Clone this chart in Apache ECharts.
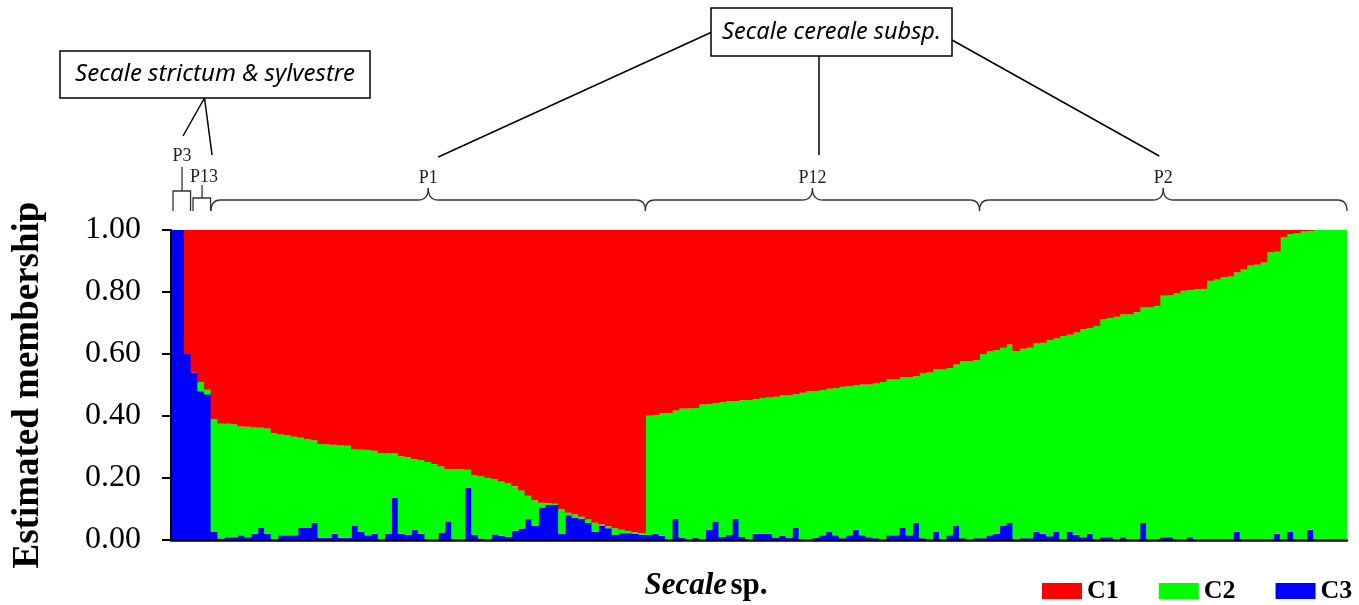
<!DOCTYPE html>
<html>
<head>
<meta charset="utf-8">
<script src="https://cdn.jsdelivr.net/npm/echarts@6/dist/echarts.min.js"></script>
<style>
  html, body { margin: 0; padding: 0; background: #fff; }
  #main { width: 1359px; height: 605px; }
</style>
</head>
<body>
<div id="main"></div>
<script>
// membership per individual (C1 red, C2 green, C3 blue)
const c1 = [
  0, 0, 0.40, 0.46, 0.49, 0.515,
  0.61, 0.625, 0.625, 0.627, 0.634, 0.635, 0.637, 0.638, 0.64, 0.655,
  0.66, 0.663, 0.667, 0.67, 0.675, 0.678, 0.69, 0.692, 0.693, 0.695,
  0.696, 0.708, 0.709, 0.71, 0.712, 0.719, 0.72, 0.721, 0.73, 0.732,
  0.739, 0.742, 0.748, 0.755, 0.763, 0.771, 0.771, 0.772, 0.773, 0.79,
  0.794, 0.8, 0.804, 0.811, 0.818, 0.827, 0.84, 0.857, 0.872, 0.88,
  0.881, 0.883, 0.9, 0.912, 0.918, 0.925, 0.934, 0.944, 0.95, 0.956,
  0.962, 0.967, 0.972, 0.975, 0.978,
  0.599, 0.597, 0.59, 0.59, 0.582, 0.576, 0.576, 0.574, 0.563, 0.562,
  0.558, 0.556, 0.552, 0.552, 0.549, 0.548, 0.546, 0.542, 0.54, 0.538,
  0.534, 0.532, 0.53, 0.525, 0.52, 0.519, 0.516, 0.512, 0.51, 0.506,
  0.504, 0.502, 0.498, 0.498, 0.495, 0.49, 0.482, 0.482, 0.474, 0.474,
  0.472, 0.463, 0.46, 0.45, 0.45, 0.445, 0.434, 0.423, 0.423, 0.42,
  0.401, 0.391, 0.388, 0.38, 0.369, 0.39, 0.383, 0.38, 0.366, 0.364,
  0.355, 0.35, 0.342, 0.338, 0.331, 0.32, 0.316, 0.31, 0.288, 0.284,
  0.28, 0.272, 0.272, 0.265, 0.25, 0.25, 0.245, 0.212, 0.21, 0.205,
  0.196, 0.194, 0.191, 0.19, 0.164, 0.16, 0.153, 0.15, 0.137, 0.127,
  0.115, 0.112, 0.105, 0.072, 0.07, 0.024, 0.013, 0.01, 0.005, 0.003,
  0, 0, 0, 0, 0
];
const c2 = [
  0, 0, 0, 0, 0.03, 0.015,
  0.364, 0.37, 0.366, 0.364, 0.351, 0.356, 0.343, 0.322, 0.34, 0.345,
  0.325, 0.322, 0.318, 0.29, 0.285, 0.267, 0.303, 0.301, 0.287, 0.298,
  0.297, 0.245, 0.265, 0.275, 0.268, 0.281, 0.26, 0.143, 0.25, 0.251,
  0.229, 0.238, 0.252, 0.245, 0.213, 0.169, 0.229, 0.228, 0.059, 0.194,
  0.201, 0.2, 0.178, 0.175, 0.172, 0.143, 0.123, 0.076, 0.082, 0.015,
  0.006, 0.004, 0.08, 0.008, 0.01, 0.007, 0.011, 0.03, 0.004, 0.006,
  0.021, 0.011, 0.006, 0.005, 0.005,
  0.385, 0.383, 0.396, 0.41, 0.35, 0.416, 0.424, 0.418, 0.437, 0.406,
  0.382, 0.434, 0.432, 0.38, 0.441, 0.452, 0.434, 0.438, 0.44, 0.454,
  0.452, 0.46, 0.43, 0.475, 0.48, 0.473, 0.469, 0.462, 0.475, 0.488,
  0.481, 0.465, 0.487, 0.493, 0.499, 0.51, 0.503, 0.503, 0.487, 0.511,
  0.473, 0.531, 0.54, 0.524, 0.55, 0.54, 0.519, 0.571, 0.577, 0.574,
  0.593, 0.594, 0.592, 0.573, 0.576, 0.61, 0.611, 0.614, 0.608, 0.616,
  0.633, 0.624, 0.658, 0.636, 0.652, 0.671, 0.664, 0.69, 0.703, 0.707,
  0.72, 0.719, 0.728, 0.735, 0.695, 0.75, 0.755, 0.779, 0.781, 0.795,
  0.804, 0.797, 0.809, 0.81, 0.836, 0.84, 0.847, 0.85, 0.837, 0.873,
  0.885, 0.888, 0.895, 0.928, 0.91, 0.976, 0.961, 0.99, 0.995, 0.964,
  1, 1, 1, 1, 1
];
const c3 = [
  1, 1, 0.6, 0.54, 0.48, 0.47,
  0.026, 0.005, 0.009, 0.009, 0.015, 0.009, 0.02, 0.04, 0.02, 0,
  0.015, 0.015, 0.015, 0.04, 0.04, 0.055, 0.007, 0.007, 0.02, 0.007,
  0.007, 0.047, 0.026, 0.015, 0.02, 0, 0.02, 0.136, 0.02, 0.017,
  0.032, 0.02, 0, 0, 0.024, 0.06, 0, 0, 0.168, 0.016,
  0.005, 0, 0.018, 0.014, 0.01, 0.03, 0.037, 0.067, 0.046, 0.105,
  0.113, 0.113, 0.02, 0.08, 0.072, 0.068, 0.055, 0.026, 0.046, 0.038,
  0.017, 0.022, 0.022, 0.02, 0.017,
  0.016, 0.02, 0.014, 0, 0.068, 0.008, 0, 0.008, 0, 0.032,
  0.06, 0.01, 0.016, 0.068, 0.01, 0, 0.02, 0.02, 0.02, 0.008,
  0.014, 0.008, 0.04, 0, 0, 0.008, 0.015, 0.026, 0.015, 0.006,
  0.015, 0.033, 0.015, 0.009, 0.006, 0, 0.015, 0.015, 0.039, 0.015,
  0.055, 0.006, 0, 0.026, 0, 0.015, 0.047, 0.006, 0, 0.006,
  0.006, 0.015, 0.02, 0.047, 0.055, 0, 0.006, 0.006, 0.026, 0.02,
  0.012, 0.026, 0, 0.026, 0.017, 0.009, 0.02, 0, 0.009, 0.009,
  0, 0.009, 0, 0, 0.055, 0, 0, 0.009, 0.009, 0,
  0, 0.009, 0, 0, 0, 0, 0, 0, 0.026, 0,
  0, 0, 0, 0, 0.02, 0, 0.026, 0, 0, 0.033,
  0, 0, 0, 0, 0
];
const samples = c1.map((v, i) => String(i + 1));

// populations: first and last individual of each
const popNames = ['P3', 'P13', 'P1', 'P12', 'P2'];
const popFirst = [0, 3, 6, 71, 121];
const popLast = [2, 5, 70, 120, 175];
const groupNames = ['Secale strictum & sylvestre', 'Secale cereale subsp.'];

const serif = '"Liberation Serif", "Times New Roman", serif';
const chart = echarts.init(document.getElementById('main'));

// bars slightly wider than the band so neighbouring columns leave no seams
const barStyle = { type: 'bar', stack: 'm', barWidth: 7.6, barCategoryGap: '0%' };

const option = {
  animation: false,
  backgroundColor: '#fff',
  grid: { left: 171, right: 12, top: 230, bottom: 65 },
  legend: {
    data: ['C1', 'C2', 'C3'],
    left: 1042,
    top: 578,
    width: 317,
    padding: 0,
    icon: 'rect',
    itemWidth: 40,
    itemHeight: 16,
    itemGap: 40,
    textStyle: { fontFamily: serif, fontWeight: 'bold', fontSize: 26, color: '#000' }
  },
  xAxis: {
    type: 'category',
    data: samples,
    z: 10,
    axisLine: { lineStyle: { color: '#000', width: 2.5 } },
    axisTick: { show: false },
    axisLabel: { show: false }
  },
  yAxis: {
    type: 'value',
    min: 0,
    max: 1,
    interval: 0.2,
    z: 10,
    name: 'Estimated membership',
    nameLocation: 'middle',
    nameRotate: 90,
    nameGap: 124,
    nameTextStyle: { fontFamily: serif, fontWeight: 'bold', fontSize: 37, color: '#000' },
    axisLine: { show: true, lineStyle: { color: '#000', width: 2 } },
    axisTick: { show: true, length: 9, lineStyle: { color: '#000', width: 2 } },
    axisLabel: {
      formatter: v => v.toFixed(2),
      fontFamily: serif,
      fontSize: 32,
      color: '#000',
      margin: 30
    },
    splitLine: { show: false }
  },
  series: [
    Object.assign({ name: 'C3', data: c3, itemStyle: { color: '#0000ff' } }, barStyle),
    Object.assign({ name: 'C2', data: c2, itemStyle: { color: '#00ff00' } }, barStyle),
    Object.assign({ name: 'C1', data: c1, itemStyle: { color: '#ff0000' } }, barStyle)
  ]
};
chart.setOption(option);

// annotations above the plot, placed from the category axis
const cx = i => chart.convertToPixel({ xAxisIndex: 0 }, samples[i]);
const half = (cx(1) - cx(0)) / 2;
const yTop = chart.convertToPixel({ yAxisIndex: 0 }, 1);
const ink = '#333';
const g = [];

function seg(x1, y1, x2, y2, w, col) {
  g.push({ type: 'line', shape: { x1, y1, x2, y2 }, style: { stroke: col || '#000', lineWidth: w || 1.5 } });
}
function curve(x1, y1, cpx1, cpy1, x2, y2) {
  g.push({ type: 'bezierCurve', shape: { x1, y1, x2, y2, cpx1, cpy1 }, style: { stroke: ink, fill: 'none', lineWidth: 1.3 } });
}
function label(text, x, y) {
  g.push({ type: 'text', x, y, style: { text, fontFamily: serif, fontSize: 18, fill: '#222', align: 'center', verticalAlign: 'middle' } });
}

const labelPos = [];
popNames.forEach((name, k) => {
  const a = cx(popFirst[k]) - half;
  const b = cx(popLast[k]) + half;
  const tip = yTop - 19;
  if (k < 2) {
    // small square brackets for P3 and P13
    const yb = k === 0 ? yTop - 39 : yTop - 32;
    const ys = k === 0 ? yTop - 63 : yTop - 45;
    const m = (a + 2 + b) / 2;
    g.push({ type: 'polyline', shape: { points: [[a + 2, tip], [a + 2, yb], [b - 0.5, yb], [b - 0.5, tip]] }, style: { stroke: ink, fill: 'none', lineWidth: 1.3 } });
    seg(m, yb, m, ys, 1.3, ink);
    const lx = k === 0 ? m : m + 2;
    const ly = k === 0 ? yTop - 74 : yTop - 53;
    label(name, lx, ly);
    labelPos.push([lx, ly]);
  } else {
    // curly braces
    const m = (a + b) / 2;
    const h = yTop - 30;
    const pk = yTop - 42;
    curve(a, tip, a, h, a + 9, h);
    seg(a + 9, h, m - 10, h, 1.3, ink);
    curve(m - 10, h, m, h, m, pk);
    curve(m, pk, m, h, m + 10, h);
    seg(m + 10, h, b - 9, h, 1.3, ink);
    curve(b - 9, h, b, h, b, tip);
    label(name, m, yTop - 52);
    labelPos.push([m, yTop - 52]);
  }
});

// group boxes with leader lines
const box1 = { x: 60, y: 51, w: 310, h: 47 };
const box2 = { x: 711, y: 8, w: 241, h: 48 };
seg(box1.x + 144.5, box1.y + box1.h, labelPos[0][0] + 1, labelPos[0][1] - 20);
seg(box1.x + 144.5, box1.y + box1.h, labelPos[1][0] + 8, labelPos[1][1] - 22);
seg(box2.x + 1, box2.y + 24, labelPos[2][0] + 10, labelPos[2][1] - 21);
seg(box2.x + 108, box2.y + box2.h, box2.x + 108, labelPos[3][1] - 23);
seg(box2.x + box2.w, box2.y + 32, labelPos[4][0] - 4, labelPos[4][1] - 22);
[box1, box2].forEach((bx, k) => {
  g.push({ type: 'rect', shape: { x: bx.x, y: bx.y, width: bx.w, height: bx.h }, style: { fill: '#fff', stroke: '#000', lineWidth: 1.5 } });
  g.push({ type: 'text', x: bx.x + bx.w / 2, y: bx.y + bx.h / 2, style: { text: groupNames[k], fontFamily: '"Noto Sans", sans-serif', fontStyle: 'italic', fontSize: k === 0 ? 24 : 23.5, fill: '#000', align: 'center', verticalAlign: 'middle' } });
});

// x axis title
g.push({
  type: 'text', x: 706, y: 586,
  style: {
    text: '{a|Secale} {b|sp.}',
    align: 'center', verticalAlign: 'middle',
    rich: {
      a: { fontFamily: serif, fontWeight: 'bold', fontStyle: 'italic', fontSize: 31, fill: '#000' },
      b: { fontFamily: serif, fontWeight: 'bold', fontSize: 31, fill: '#000' }
    }
  }
});

chart.setOption({ graphic: g });
</script>
</body>
</html>
